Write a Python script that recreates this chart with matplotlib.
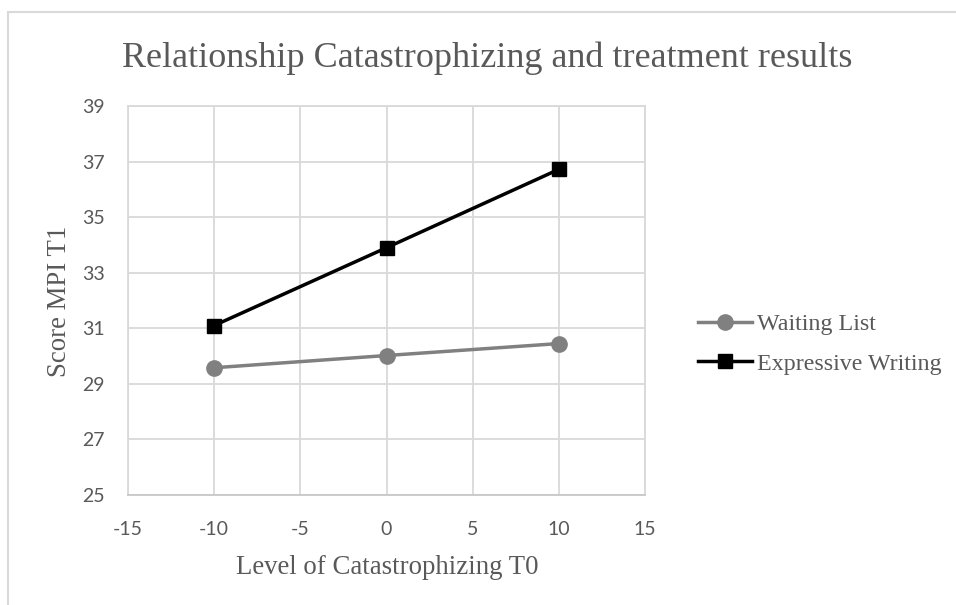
import matplotlib
matplotlib.use("Agg")
import matplotlib.pyplot as plt
from matplotlib.patches import Rectangle

plt.rcParams["axes.unicode_minus"] = False

# Données
niveaux = [-10, 0, 10]
liste_attente = [29.58, 30.02, 30.45]
ecriture_expressive = [31.1, 33.9, 36.72]
xticks = [-15, -10, -5, 0, 5, 10, 15]
yticks = [25, 27, 29, 31, 33, 35, 37, 39]

gris_texte = "#595959"
gris_grille = "#d9d9d9"
serif = ["Liberation Serif", "DejaVu Serif"]
sans = ["Lato", "DejaVu Sans"]

fig = plt.figure(figsize=(9.56, 6.05), dpi=100)
ax = fig.add_axes([128 / 956, 1 - 495 / 605, (645 - 128) / 956, (495 - 106) / 605])

# Cadre du graphique (style Excel)
fig.patches.append(Rectangle((8 / 956, -0.1), 1.2, 1 - 12 / 605 + 0.1,
                             transform=fig.transFigure, fill=False,
                             edgecolor=gris_grille, linewidth=1.5))

ax.plot(niveaux, liste_attente, color="#808080", linewidth=2.5, marker="o",
        markersize=11, label="Waiting List", zorder=3)
ax.plot(niveaux, ecriture_expressive, color="black", linewidth=2.5, marker="s",
        markersize=10.5, label="Expressive Writing", zorder=3)

ax.set_xlim(-15, 15)
ax.set_ylim(25, 39)
ax.set_xticks(xticks)
ax.set_yticks(yticks)
ax.grid(True, color=gris_grille, linewidth=1.3)
ax.set_axisbelow(True)
for s in ax.spines.values():
    s.set_color(gris_grille)
    s.set_linewidth(1.3)
ax.spines["bottom"].set_color("#c8c8c8")
ax.tick_params(length=0, labelcolor=gris_texte, labelsize=14)
ax.tick_params(axis="x", pad=19)
ax.tick_params(axis="y", pad=17)
for lab in ax.get_xticklabels() + ax.get_yticklabels():
    lab.set_family(sans)

fig.text(487 / 956, 1 - 58 / 605, "Relationship Catastrophizing and treatment results",
         ha="center", va="center", fontsize=26, color=gris_texte, family=serif)
fig.text(387 / 956, 1 - 567 / 605, "Level of Catastrophizing T0",
         ha="center", va="center", fontsize=19.3, color=gris_texte, family=serif)
fig.text(59 / 956, 1 - 301 / 605, "Score MPI T1", rotation=90,
         ha="center", va="center", fontsize=19.3, color=gris_texte, family=serif)

leg = fig.legend(loc="center left", bbox_to_anchor=(698 / 956, 1 - 344 / 605),
                 frameon=False, handlelength=2.25, handletextpad=0.2,
                 labelspacing=0.75, borderaxespad=0, borderpad=0,
                 prop={"family": serif, "size": 17.3})
for t in leg.get_texts():
    t.set_color(gris_texte)

fig.savefig("out.png", dpi=100)
